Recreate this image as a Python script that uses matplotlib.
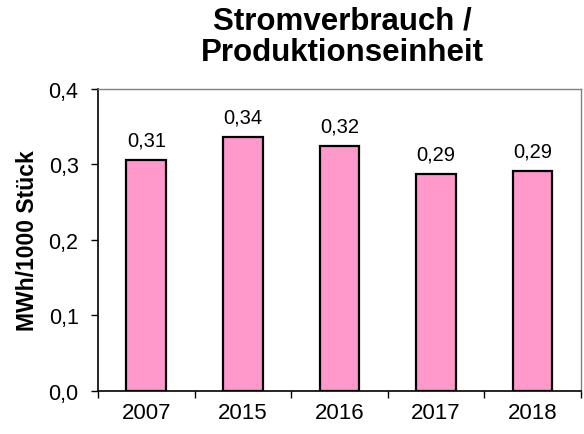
import matplotlib
matplotlib.use("Agg")
import matplotlib.pyplot as plt
from matplotlib.ticker import FixedLocator

categories = ["2007", "2015", "2016", "2017", "2018"]
values = [0.306, 0.337, 0.324, 0.288, 0.291]
labels = ["0,31", "0,34", "0,32", "0,29", "0,29"]
yticks = [0.0, 0.1, 0.2, 0.3, 0.4]
ytick_labels = ["0,0", "0,1", "0,2", "0,3", "0,4"]

plt.rcParams['font.family'] = ['Liberation Sans', 'DejaVu Sans']

fig = plt.figure(figsize=(5.84, 4.35), dpi=100)
ax = fig.add_axes([0.1678, 0.0989, 0.8265, 0.6942])

x = list(range(len(categories)))
ax.bar(x, values, width=0.41, color="#FF99CC", edgecolor="black", linewidth=1.6, zorder=3)
for xi, v, lab in zip(x, values, labels):
    ax.annotate(lab, (xi, v), xytext=(0, 7.5), textcoords="offset points",
                ha="center", va="bottom", fontsize=14.5)

ax.set_xlim(-0.5, len(categories) - 0.5)
ax.set_ylim(0, 0.4)
ax.set_yticks(yticks)
ax.set_yticklabels(ytick_labels, fontsize=15.5)
ax.set_xticks(x)
ax.set_xticklabels(categories, fontsize=16)
ax.xaxis.set_minor_locator(FixedLocator([i - 0.5 for i in range(len(categories) + 1)]))
ax.tick_params(axis="x", which="major", length=0, pad=8)
ax.tick_params(axis="x", which="minor", length=5, width=1, direction="out")
ax.tick_params(axis="y", length=5, width=1, direction="out", pad=9)

for s in ["left", "bottom"]:
    ax.spines[s].set_color("black")
    ax.spines[s].set_linewidth(1.2)
for s in ["top", "right"]:
    ax.spines[s].set_color("#808080")
    ax.spines[s].set_linewidth(1.0)

ax.set_ylabel("MWh/1000 Stück", fontsize=16.5, fontweight="bold", labelpad=7)
fig.text(0.587, 0.985, "Stromverbrauch /\nProduktionseinheit", ha="center", va="top",
         fontsize=22.5, fontweight="bold", linespacing=1.05)

fig.savefig("out.png", dpi=100)
